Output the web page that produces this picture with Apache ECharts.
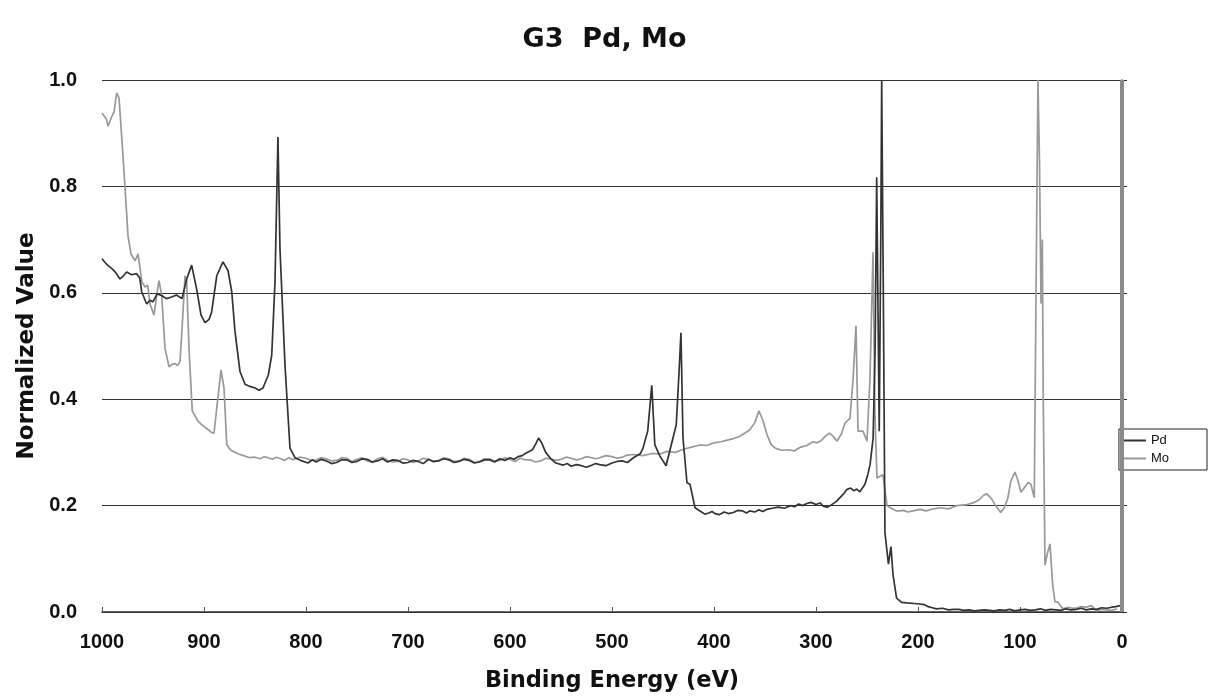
<!DOCTYPE html>
<html>
<head>
<meta charset="utf-8">
<script src="https://cdn.jsdelivr.net/npm/echarts@6/dist/echarts.min.js"></script>
<style>html,body{margin:0;padding:0;background:#fff;}#c{width:1209px;height:698px;}</style>
</head>
<body>
<div id="c"></div>
<script>
var titleText = 'G3  Pd, Mo';
var xName = 'Binding Energy (eV)';
var yName = 'Normalized Value';
var seriesNames = ['Pd', 'Mo'];

var pdX = [1000,997,994,990,987,982.4,979,975.8,971,966,963,961.1,956.2,953,950,946,941.5,937,931.7,927,921.6,917,912.1,907.2,902.9,899,895,892.5,887.5,881.4,876.5,872.8,869.6,864.7,859.8,855,850,846,842.2,837,833.6,830.4,827.5,825.5,820.6,815.7,810.8,804,798,794,790,785,780,775,770,765,760,755,750,745,740,735,730,725,720,715,710,705,700,695,690,685,680,675,670,665,660,655,650,645,640,635,630,625,620,615,610,605,600,596,592,588,585,578,575,572,569,565,560,555,548,544,540,535,530,525,520,516,512,506,500,495,490,485,479,472,469.6,465,461,458,453,447,441,437,434.3,432.4,430.4,426.5,423.5,418.6,413.7,409,405,402,399,395,390,386,381,377,372,368,365,360,356,352,348,343,337,331,325,321,317,313,309,305,300,296,293,289,286,280,276.5,273,270,266,263,260,257,252,249,247,244,242,240.5,238,236.5,235.6,234,232.4,229,226.5,224.5,221,216,211,204,198,194,190,186,182,176,170,165,160,155,150,145,140,135,130,125,120,115,110,105,100,95,90,85,80,75,70,65,60,55,50,45,40,35,30,25,20,15,10,6,4,2,0];
var pdY = [0.664,0.657,0.651,0.645,0.639,0.626,0.632,0.639,0.634,0.636,0.628,0.602,0.579,0.586,0.583,0.598,0.595,0.589,0.592,0.596,0.589,0.626,0.652,0.607,0.558,0.544,0.55,0.564,0.632,0.658,0.642,0.602,0.527,0.452,0.428,0.424,0.421,0.417,0.421,0.445,0.483,0.62,0.893,0.682,0.464,0.308,0.29,0.284,0.28,0.286,0.282,0.287,0.284,0.279,0.281,0.286,0.286,0.281,0.283,0.288,0.287,0.282,0.284,0.288,0.282,0.286,0.285,0.28,0.281,0.285,0.283,0.279,0.287,0.283,0.284,0.288,0.286,0.281,0.283,0.287,0.285,0.28,0.282,0.286,0.286,0.282,0.288,0.285,0.29,0.287,0.292,0.294,0.298,0.305,0.315,0.327,0.318,0.3,0.288,0.28,0.276,0.279,0.274,0.277,0.275,0.272,0.276,0.279,0.277,0.275,0.28,0.283,0.284,0.281,0.29,0.298,0.308,0.34,0.426,0.314,0.293,0.275,0.321,0.352,0.45,0.525,0.327,0.243,0.24,0.196,0.19,0.184,0.186,0.189,0.185,0.183,0.188,0.185,0.187,0.191,0.19,0.186,0.19,0.188,0.192,0.189,0.193,0.195,0.197,0.195,0.2,0.198,0.203,0.2,0.204,0.206,0.202,0.205,0.199,0.197,0.2,0.208,0.215,0.222,0.23,0.233,0.228,0.231,0.226,0.24,0.26,0.277,0.327,0.5,0.817,0.34,0.7,1.0,0.6,0.149,0.09,0.123,0.07,0.026,0.018,0.017,0.016,0.015,0.014,0.01,0.008,0.006,0.007,0.004,0.005,0.005,0.003,0.004,0.002,0.003,0.004,0.003,0.002,0.004,0.003,0.005,0.002,0.004,0.005,0.003,0.004,0.006,0.003,0.005,0.004,0.003,0.006,0.004,0.005,0.007,0.004,0.006,0.005,0.008,0.007,0.009,0.01,0.011,0.012];

var moX = [1000,997,995.4,994.1,990.5,988.2,985.6,983.3,980.7,977.5,974.5,971.6,967.6,964.7,960.8,957.8,955.2,952.9,949,946.4,944.1,941.5,938.2,934.3,931,928.4,926,923.5,921.3,918.6,917,914.7,911.5,908,905.9,901,896.1,893,890.2,887.5,883.3,880.4,877.7,875,872.8,866,859.8,855,850,845,841,837.3,833,829,825,821,817,813,810.8,806,800,795,790,785,780,775,770,765,760,755,750,745,740,735,730,725,720,715,710,705,700,695,690,685,680,675,670,665,660,655,650,645,640,635,630,625,620,615,610,605,600,595,590,585,580,575,570,565,560,555,550,545,540,535,530,525,520,516,512,506,500,495,490,485,479,470,460,453,446,438,430,422,414,407,400,393,387,381,375,370,365,360,356,352,348,344,340,334,327.5,321,315,309,303,299,295,291,287,283,279.4,275,271.6,266.7,263.7,260.8,258.8,253.9,250,247.1,244.1,242.2,240.2,237,234.3,230.4,227,224.5,221,217.6,214,210,205,198,192,185,178,170,162,152,146,140,136,132.4,128,123.9,119,115.7,112,109.1,105,102.5,99,95.3,92,89.3,86,84.3,82.4,80.9,79.4,78.1,77.2,75.5,72.9,70.6,67.9,65.7,63,58,53,48,44,40,35,30,25,20,15,10,5,0];
var moY = [0.938,0.93,0.925,0.913,0.931,0.94,0.976,0.966,0.894,0.8,0.707,0.673,0.66,0.673,0.62,0.611,0.614,0.579,0.558,0.595,0.623,0.595,0.495,0.461,0.466,0.467,0.463,0.471,0.539,0.632,0.623,0.495,0.378,0.366,0.359,0.35,0.343,0.338,0.336,0.383,0.455,0.421,0.315,0.307,0.303,0.297,0.293,0.29,0.291,0.288,0.292,0.29,0.287,0.291,0.288,0.285,0.29,0.286,0.288,0.291,0.289,0.285,0.286,0.29,0.288,0.284,0.285,0.29,0.289,0.283,0.287,0.29,0.284,0.281,0.288,0.291,0.285,0.282,0.283,0.288,0.286,0.281,0.284,0.289,0.287,0.282,0.285,0.29,0.288,0.283,0.284,0.289,0.287,0.281,0.283,0.288,0.288,0.284,0.285,0.29,0.287,0.283,0.289,0.286,0.286,0.282,0.284,0.289,0.288,0.285,0.287,0.291,0.289,0.286,0.288,0.292,0.29,0.288,0.29,0.294,0.292,0.289,0.291,0.295,0.296,0.294,0.298,0.297,0.302,0.3,0.306,0.31,0.314,0.313,0.318,0.32,0.323,0.326,0.33,0.336,0.342,0.356,0.378,0.36,0.333,0.315,0.308,0.304,0.305,0.303,0.31,0.313,0.32,0.318,0.322,0.33,0.336,0.33,0.321,0.335,0.355,0.364,0.437,0.538,0.34,0.34,0.321,0.437,0.676,0.37,0.252,0.255,0.258,0.2,0.196,0.193,0.19,0.19,0.191,0.188,0.19,0.193,0.19,0.194,0.196,0.194,0.2,0.202,0.205,0.211,0.219,0.222,0.213,0.2,0.187,0.195,0.213,0.245,0.263,0.25,0.225,0.235,0.244,0.24,0.215,0.6,1.0,0.85,0.58,0.7,0.4,0.088,0.112,0.128,0.049,0.019,0.019,0.006,0.009,0.007,0.008,0.01,0.009,0.012,0.002,0.005,0.004,0.003,0.006];

function pairs(xs, ys) { var out = []; for (var i = 0; i < xs.length; i++) out.push([xs[i], ys[i]]); return out; }

var chart = echarts.init(document.getElementById('c'), null, {renderer: 'canvas'});
var wideFont = '"DejaVu Sans", "Liberation Sans", sans-serif';
var numFont = '"Liberation Sans", Arial, sans-serif';
chart.setOption({
  animation: false,
  backgroundColor: '#ffffff',
  title: {
    text: titleText, left: 'center', top: 21,
    textStyle: {fontFamily: wideFont, fontSize: 27, fontWeight: 'bold', color: '#111'}
  },
  legend: {
    data: seriesNames, orient: 'vertical', right: 2, top: 429,
    borderColor: '#222', borderWidth: 1, borderRadius: 0,
    padding: [5, 38, 5, 5], itemGap: 5, itemWidth: 22, itemHeight: 2, icon: 'rect',
    textStyle: {fontFamily: numFont, fontSize: 13, color: '#111'}
  },
  grid: {left: 102, right: 87, top: 80, bottom: 83, containLabel: false},
  xAxis: {
    type: 'value', min: 0, max: 1000, interval: 100, inverse: true,
    name: xName, nameLocation: 'middle', nameGap: 58,
    nameTextStyle: {fontFamily: wideFont, fontSize: 22.5, fontWeight: 'bold', color: '#111'},
    axisLine: {show: true, lineStyle: {color: '#333', width: 1.5}},
    axisTick: {show: true, inside: true, length: 5, lineStyle: {color: '#555'}},
    axisLabel: {fontFamily: numFont, fontSize: 20, fontWeight: 'bold', color: '#111', margin: 20,
      formatter: function (v) { return String(v); }},
    splitLine: {show: false}
  },
  yAxis: {
    type: 'value', min: 0, max: 1, interval: 0.2,
    name: yName, nameLocation: 'middle', nameGap: 62, nameRotate: 90,
    nameTextStyle: {fontFamily: wideFont, fontSize: 23, fontWeight: 'bold', color: '#111'},
    axisLine: {show: true, lineStyle: {color: '#333', width: 1.5}},
    axisTick: {show: true, inside: true, length: 5, lineStyle: {color: '#333'}},
    axisLabel: {fontFamily: numFont, fontSize: 20, fontWeight: 'bold', color: '#111', margin: 25,
      formatter: function (v) { return v.toFixed(1); }},
    splitLine: {show: true, lineStyle: {color: '#333', width: 1}}
  },
  series: [
    {
      name: seriesNames[0], type: 'line', data: pairs(pdX, pdY), showSymbol: false, symbol: 'none',
      clip: true, color: '#333333', lineStyle: {color: '#333333', width: 1.7}, z: 3
    },
    {
      name: seriesNames[1], type: 'line', data: pairs(moX, moY), showSymbol: false, symbol: 'none',
      clip: true, color: '#999999', lineStyle: {color: '#999999', width: 1.7}, z: 2,
      markLine: {silent: true, symbol: 'none', label: {show: false},
        lineStyle: {color: '#8a8a8a', width: 4, type: 'solid'}, data: [{xAxis: 0}]}
    }
  ]
});
</script>
</body>
</html>
